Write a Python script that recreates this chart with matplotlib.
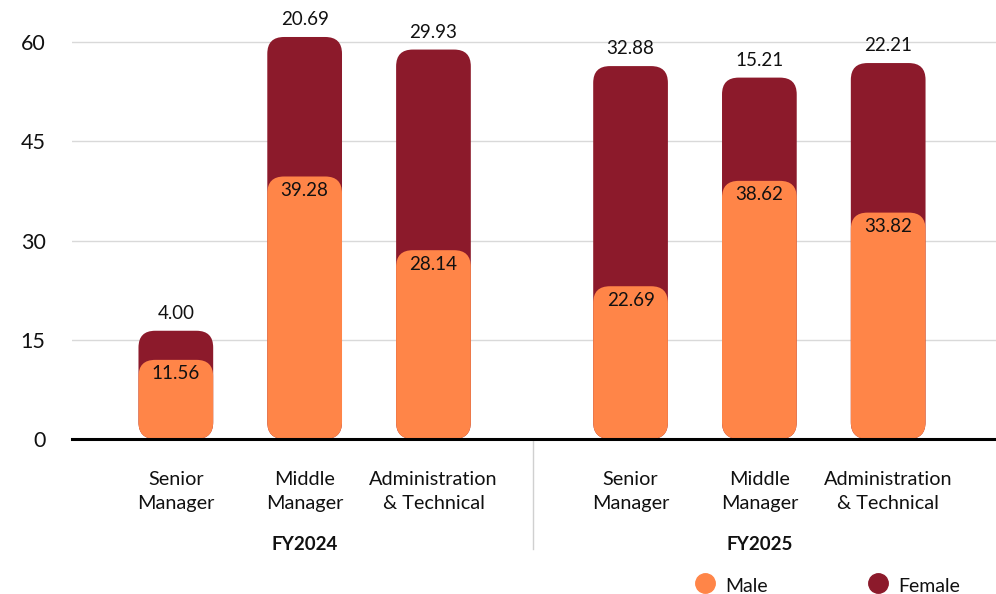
import matplotlib
matplotlib.use("Agg")
import matplotlib.pyplot as plt
from matplotlib.patches import FancyBboxPatch
from matplotlib.lines import Line2D
import matplotlib.transforms as mtransforms

plt.rcParams['font.family'] = ['Lato', 'DejaVu Sans']

# data
groups = ['FY2024', 'FY2025']
categories = ['Senior\nManager', 'Middle\nManager', 'Administration\n& Technical']
male = [11.56, 39.28, 28.14, 22.69, 38.62, 33.82]
female = [4.00, 20.69, 29.93, 32.88, 15.21, 22.21]

male_col = '#FF8548'
female_col = '#8C1A2B'

xs = [0, 1, 2, 3.53, 4.53, 5.53]
bw = 0.58

fig = plt.figure(figsize=(9.96, 5.94), dpi=100)
ax = fig.add_axes([0.0723, 0.261, 0.9277, 0.696])
ax.set_xlim(-0.806, 6.367)
ax.set_ylim(0, 62.5)

# aspect for rounded corners (data-y per data-x in pixel terms)
fig.canvas.draw()
p0 = ax.transData.transform((0, 0))
p1 = ax.transData.transform((1, 1))
aspect = (p1[0] - p0[0]) / (p1[1] - p0[1])
rad = 0.13


def rbar(x, bottom, top, color):
    patch = FancyBboxPatch((x - bw / 2, bottom), bw, top - bottom,
                           boxstyle="round,pad=0,rounding_size=%f" % rad,
                           mutation_aspect=aspect, fc=color, ec='none', zorder=3)
    ax.add_patch(patch)


for i, x in enumerate(xs):
    tot = male[i] + female[i]
    rbar(x, 0, tot + 0.8, female_col)
    rbar(x, 0, male[i] + 0.4, male_col)
    ax.text(x, male[i] - 1.7, '%.2f' % male[i], ha='center', va='center',
            fontsize=13.5, color='#111111', zorder=4)
    ax.text(x, tot + 3.4, '%.2f' % female[i], ha='center', va='center',
            fontsize=13.5, color='#111111', zorder=4)

ax.set_yticks([0, 15, 30, 45, 60])
ax.yaxis.grid(True, color='#d9d9d9', lw=1)
ax.set_axisbelow(True)
ax.tick_params(axis='y', length=0, labelsize=15.5, pad=19, labelcolor='#111111')
ax.set_xticks([])
for s in ['top', 'right', 'left']:
    ax.spines[s].set_visible(False)
ax.spines['bottom'].set_linewidth(2.2)
ax.spines['bottom'].set_color('black')
ax.spines['bottom'].set_zorder(5)

trans = mtransforms.blended_transform_factory(ax.transData, ax.transAxes)
for i, x in enumerate(xs):
    ax.text(x, -0.128, categories[i % 3], transform=trans, ha='center', va='center',
            fontsize=14.3, linespacing=1.5, color='#111111')
for g, gx in zip(groups, [1, 4.53]):
    ax.text(gx, -0.256, g, transform=trans, ha='center', va='center',
            fontsize=13.5, fontweight='bold', color='#111111')

sep = Line2D([2.77, 2.77], [0, -0.266], transform=trans, color='#d0d0d0', lw=1, clip_on=False)
ax.add_line(sep)

# legend
for lx, lab, col in [(705, 'Male', male_col), (878, 'Female', female_col)]:
    fig.add_artist(Line2D([lx / 996], [1 - 583 / 594], transform=fig.transFigure,
                          marker='o', ms=14, color=col, lw=0))
    fig.text((lx + 20) / 996, 1 - 586 / 594, lab, fontsize=14, ha='left', va='center',
             color='#111111')

fig.savefig('out.png', dpi=100)
